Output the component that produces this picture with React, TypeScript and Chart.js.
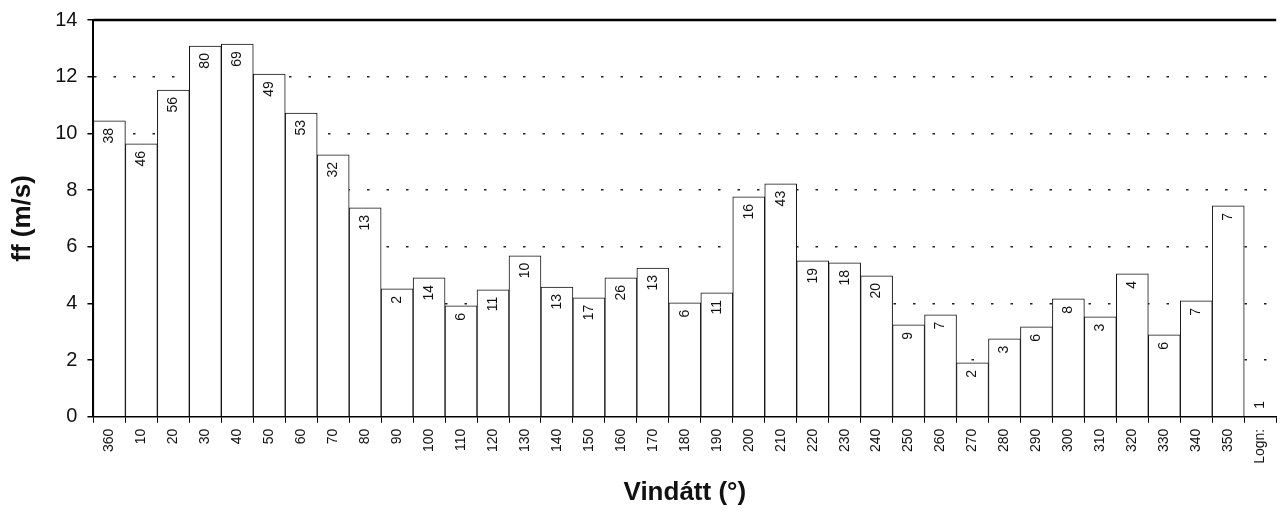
import React, { useEffect, useRef } from "react";
import { Chart, registerables } from "chart.js";

Chart.register(...registerables);

const directions = [
  "360", "10", "20", "30", "40", "50", "60", "70", "80", "90", "100", "110",
  "120", "130", "140", "150", "160", "170", "180", "190", "200", "210", "220",
  "230", "240", "250", "260", "270", "280", "290", "300", "310", "320", "330",
  "340", "350", "Logn:",
];

const speeds = [
  10.44, 9.63, 11.53, 13.08, 13.15, 12.09, 10.72, 9.24, 7.37, 4.51, 4.9, 3.91,
  4.48, 5.68, 4.58, 4.2, 4.9, 5.25, 4.02, 4.37, 7.76, 8.22, 5.5, 5.43, 4.97,
  3.24, 3.6, 1.9, 2.75, 3.17, 4.16, 3.53, 5.04, 2.89, 4.09, 7.44, 0,
];

const counts = [
  38, 46, 56, 80, 69, 49, 53, 32, 13, 2, 14, 6, 11, 10, 13, 17, 26, 13, 6, 11,
  16, 43, 19, 18, 20, 9, 7, 2, 3, 6, 8, 3, 4, 6, 7, 7, 1,
];

const yTicks = [0, 2, 4, 6, 8, 10, 12, 14];

const FONT = "'Liberation Sans', Arial, Helvetica, sans-serif";

const barLabelPlugin = {
  id: "barLabels",
  afterDatasetsDraw(chart: any) {
    const ctx = chart.ctx;
    const meta = chart.getDatasetMeta(0);
    ctx.save();
    ctx.fillStyle = "#111";
    ctx.font = `14px ${FONT}`;
    ctx.textBaseline = "middle";
    meta.data.forEach((bar: any, i: number) => {
      const v = speeds[i];
      ctx.save();
      ctx.translate(bar.x, 0);
      ctx.rotate(-Math.PI / 2);
      if (v > 0) {
        ctx.textAlign = "right";
        ctx.fillText(String(counts[i]), -(bar.y + 7), 0);
      } else {
        ctx.textAlign = "left";
        ctx.fillText(String(counts[i]), -(bar.base - 8), 0);
      }
      ctx.restore();
    });
    const a = chart.chartArea;
    ctx.strokeStyle = "#000";
    ctx.lineWidth = 2.5;
    ctx.setLineDash([]);
    ctx.beginPath();
    ctx.moveTo(a.left, a.top);
    ctx.lineTo(a.right, a.top);
    ctx.stroke();
    ctx.restore();
  },
};

export default function App() {
  const ref = useRef<HTMLCanvasElement>(null);

  useEffect(() => {
    document.body.style.margin = "0";
    const chart = new Chart(ref.current!, {
      type: "bar",
      data: {
        labels: directions,
        datasets: [
          {
            data: speeds,
            backgroundColor: "#ffffff",
            borderColor: "#111",
            borderWidth: 1,
            categoryPercentage: 1,
            barPercentage: 1,
          },
        ],
      },
      options: {
        animation: false,
        responsive: true,
        maintainAspectRatio: false,
        layout: { padding: { top: 8, right: 0, left: 7, bottom: 6 } },
        plugins: {
          legend: { display: false },
          tooltip: { enabled: false },
        },
        scales: {
          x: {
            offset: true,
            grid: {
              offset: true,
              drawOnChartArea: false,
              drawTicks: true,
              tickLength: 6,
              tickColor: "#000",
            },
            border: { color: "#000", width: 1.5 },
            ticks: {
              color: "#111",
              font: { family: FONT, size: 14 },
              minRotation: 90,
              maxRotation: 90,
              autoSkip: false,
              padding: 6,
            },
            title: {
              display: true,
              text: "Vindátt (°)",
              color: "#111",
              font: { family: FONT, size: 26, weight: "bold" },
              padding: { top: 7, bottom: 0 },
            },
          },
          y: {
            min: 0,
            max: 14,
            afterBuildTicks: (scale: any) => {
              scale.ticks = yTicks.map((v) => ({ value: v }));
            },
            grid: {
              color: (c: any) =>
                c.tick && (c.tick.value === 0 || c.tick.value === 14)
                  ? "rgba(0,0,0,0)"
                  : "#222",
              lineWidth: 1.5,
              drawTicks: true,
              tickLength: 6,
              tickColor: "#000",
              tickBorderDash: [],
            },
            border: { color: "#000", width: 2, dash: [2.5, 17] },
            ticks: {
              color: "#111",
              font: { family: FONT, size: 20, lineHeight: 1 },
              padding: 10,
            },
            title: {
              display: true,
              text: "ff (m/s)",
              color: "#111",
              font: { family: FONT, size: 26, weight: "bold" },
              padding: { top: 0, bottom: 7 },
            },
          },
        },
      },
      plugins: [barLabelPlugin],
    });
    return () => chart.destroy();
  }, []);

  return (
    <div style={{ position: "absolute", left: 0, top: 0, width: 1283, height: 514 }}>
      <canvas ref={ref} />
    </div>
  );
}
